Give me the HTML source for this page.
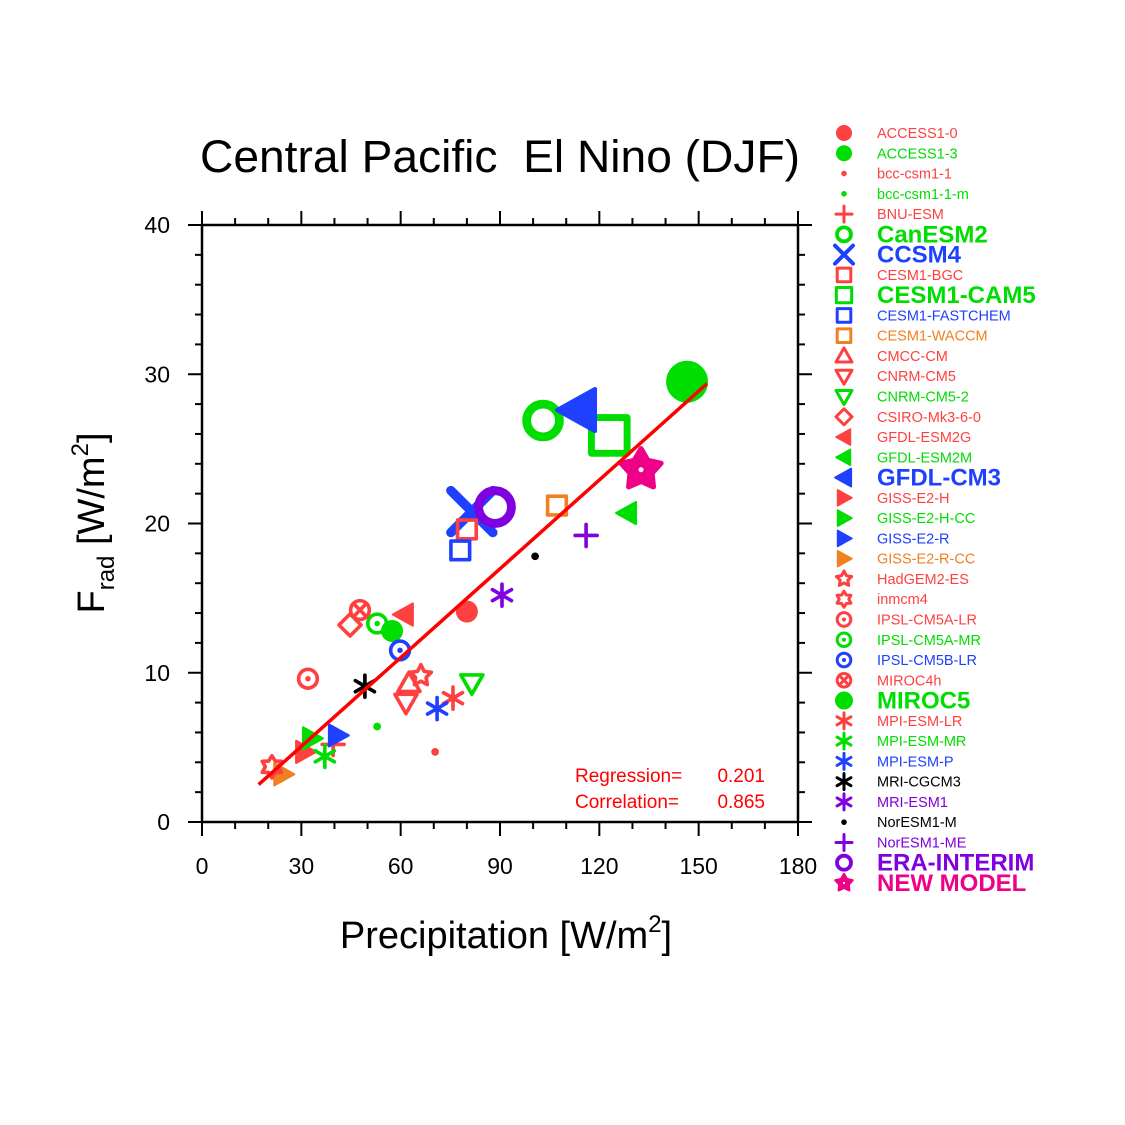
<!DOCTYPE html>
<html><head><meta charset="utf-8"><style>
html,body{margin:0;padding:0;background:#fff;}
svg{display:block;font-family:"Liberation Sans",sans-serif;}
</style></head><body>
<svg id="chart" width="1125" height="1125" viewBox="0 0 1125 1125" xmlns="http://www.w3.org/2000/svg">
<rect width="1125" height="1125" fill="#fff"/>
<text x="200" y="172" font-size="45" textLength="600" lengthAdjust="spacingAndGlyphs" style="white-space:pre">Central Pacific  El Nino (DJF)</text>
<text x="506" y="948" font-size="38" text-anchor="middle">Precipitation [W/m<tspan dy="-16" font-size="24">2</tspan><tspan dy="16">]</tspan></text>
<text transform="translate(104,523) rotate(-90)" font-size="38" text-anchor="middle">F<tspan dy="10" font-size="24">rad</tspan><tspan dy="-10"> [W/m</tspan><tspan dy="-16" font-size="24">2</tspan><tspan dy="16">]</tspan></text>
<g id="axes"></g>
<g id="marks"></g>
<g id="legend"></g>
<text x="575" y="782" font-size="19" fill="#ff0000">Regression=</text>
<text x="765" y="782" font-size="19" fill="#ff0000" text-anchor="end">0.201</text>
<text x="575" y="808" font-size="19" fill="#ff0000">Correlation=</text>
<text x="765" y="808" font-size="19" fill="#ff0000" text-anchor="end">0.865</text>
</svg>
<script>
const models=["ACCESS1-0","ACCESS1-3","bcc-csm1-1","bcc-csm1-1-m","BNU-ESM","CanESM2","CCSM4","CESM1-BGC","CESM1-CAM5","CESM1-FASTCHEM","CESM1-WACCM","CMCC-CM","CNRM-CM5","CNRM-CM5-2","CSIRO-Mk3-6-0","GFDL-ESM2G","GFDL-ESM2M","GFDL-CM3","GISS-E2-H","GISS-E2-H-CC","GISS-E2-R","GISS-E2-R-CC","HadGEM2-ES","inmcm4","IPSL-CM5A-LR","IPSL-CM5A-MR","IPSL-CM5B-LR","MIROC4h","MIROC5","MPI-ESM-LR","MPI-ESM-MR","MPI-ESM-P","MRI-CGCM3","MRI-ESM1","NorESM1-M","NorESM1-ME","ERA-INTERIM","NEW MODEL"];
const precip=[80.0,57.4,70.4,52.9,39.6,103.0,81.5,80.0,123.0,78.0,107.2,62.5,61.6,81.5,44.7,61.0,128.4,113.6,31.1,33.2,41.0,24.5,66.1,21.1,32.0,52.9,59.8,47.7,146.5,75.8,37.1,71.0,49.2,90.6,100.6,116.0,88.5,132.6];
const frad=[14.1,12.8,4.7,6.4,5.2,26.9,20.8,19.6,25.9,18.2,21.2,9.3,8.0,9.3,13.2,13.9,20.7,27.6,4.7,5.6,5.8,3.2,9.8,3.7,9.6,13.3,11.5,14.2,29.5,8.3,4.4,7.6,9.1,15.2,17.8,19.2,21.1,23.6];
const xTicks=[0,30,60,90,120,150,180];
const yTicks=[0,10,20,30,40];
const colors=["#ff4040","#00dd00","#ff4040","#00dd00","#ff4040","#00dd00","#2040ff","#ff4040","#00dd00","#2040ff","#f08020","#ff4040","#ff4040","#00dd00","#ff4040","#ff4040","#00dd00","#2040ff","#ff4040","#00dd00","#2040ff","#f08020","#ff4040","#ff4040","#ff4040","#00dd00","#2040ff","#ff4040","#00dd00","#ff4040","#00dd00","#2040ff","#000000","#8000e0","#000000","#8000e0","#8000e0","#ee0088"];
const shapes=["disc","disc","dot","dot","plus","ring","x","sq","sq","sq","sq","tu","td","td","dia","tl","tl","tl","tr","tr","tr","tr","star5","star6","cdot","cdot","cdot","cx","disc","ast","ast","ast","ast","ast","dot","plus","ring","star5f"];
const big=[0,0,0,0,0,1,1,0,1,0,0,0,0,0,0,0,0,1,0,0,0,0,0,0,0,0,0,0,1,0,0,0,0,0,0,0,1,1];
const X0=202,X1=798,Y0=822,Y1=225;
const sx=v=>X0+(v-0)/180*(X1-X0);
const sy=v=>Y0-(v-0)/40*(Y0-Y1);
const NS="http://www.w3.org/2000/svg";
function mk(tag,attrs,parent){const e=document.createElementNS(NS,tag);for(const k in attrs)e.setAttribute(k,attrs[k]);parent.appendChild(e);return e;}
const axes=document.getElementById('axes');
mk('rect',{x:X0,y:Y1,width:X1-X0,height:Y0-Y1,fill:'none',stroke:'#000','stroke-width':2.5},axes);
for(let v=0;v<=180;v+=10){const maj=v%30===0,L=maj?14:7,x=sx(v);
 mk('line',{x1:x,y1:Y0,x2:x,y2:Y0+L,stroke:'#000','stroke-width':2},axes);
 mk('line',{x1:x,y1:Y1,x2:x,y2:Y1-L,stroke:'#000','stroke-width':2},axes);}
for(let v=0;v<=40;v+=2){const maj=v%10===0,L=maj?14:7,y=sy(v);
 mk('line',{x1:X0,y1:y,x2:X0-L,y2:y,stroke:'#000','stroke-width':2},axes);
 mk('line',{x1:X1,y1:y,x2:X1+L,y2:y,stroke:'#000','stroke-width':2},axes);}
xTicks.forEach(v=>{const t=mk('text',{x:sx(v),y:Y0+52,'font-size':23,'text-anchor':'middle'},axes);t.textContent=v;
 
 });
yTicks.forEach(v=>{const t=mk('text',{x:X0-32,y:sy(v)+8,'font-size':23,'text-anchor':'end'},axes);t.textContent=v;
 
 });
function starPts(cx,cy,n,ro,ri){let p=[];for(let i=0;i<2*n;i++){const a=-Math.PI/2+i*Math.PI/n,r=i%2?ri:ro;p.push((cx+r*Math.cos(a)).toFixed(1)+','+(cy+r*Math.sin(a)).toFixed(1));}return p.join(' ');}
function marker(g,shape,cx,cy,r,c){
 const sw=Math.max(3,r*0.33);
 const st={fill:'none',stroke:c,'stroke-width':sw,'stroke-linejoin':'round','stroke-linecap':'round'};
 switch(shape){
 case 'disc':mk('circle',{cx,cy,r,fill:c},g);break;
 case 'dot':mk('circle',{cx,cy,r:r*0.35,fill:c},g);break;
 case 'plus':mk('path',Object.assign({d:`M${cx-r} ${cy}H${cx+r}M${cx} ${cy-r}V${cy+r}`},st),g);break;
 case 'ring':mk('circle',Object.assign({cx,cy,r:r*0.78},st,{'stroke-width':r*0.42}),g);break;
 case 'x':mk('path',Object.assign({d:`M${cx-r} ${cy-r}L${cx+r} ${cy+r}M${cx+r} ${cy-r}L${cx-r} ${cy+r}`},st,{'stroke-width':r*0.45}),g);break;
 case 'sq':{const s=r*0.85;mk('rect',Object.assign({x:cx-s,y:cy-s,width:2*s,height:2*s},st),g);break;}
 case 'tu':mk('polygon',Object.assign({points:`${cx},${cy-r} ${cx+r},${cy+r*0.75} ${cx-r},${cy+r*0.75}`},st),g);break;
 case 'td':mk('polygon',Object.assign({points:`${cx},${cy+r} ${cx+r},${cy-r*0.75} ${cx-r},${cy-r*0.75}`},st),g);break;
 case 'dia':mk('polygon',Object.assign({points:`${cx},${cy-r} ${cx+r},${cy} ${cx},${cy+r} ${cx-r},${cy}`},st),g);break;
 case 'tl':mk('polygon',{points:`${cx-r},${cy} ${cx+r*0.8},${cy-r} ${cx+r*0.8},${cy+r}`,fill:c,stroke:c,'stroke-width':r*0.2,'stroke-linejoin':'round'},g);break;
 case 'tr':mk('polygon',{points:`${cx+r},${cy} ${cx-r*0.8},${cy-r} ${cx-r*0.8},${cy+r}`,fill:c,stroke:c,'stroke-width':r*0.2,'stroke-linejoin':'round'},g);break;
 case 'star5':mk('polygon',Object.assign({points:starPts(cx,cy,5,r,r*0.5)},st),g);break;
 case 'star5f':mk('polygon',{points:starPts(cx,cy,5,r,r*0.55),fill:c,stroke:c,'stroke-width':r*0.25,'stroke-linejoin':'round'},g);mk('circle',{cx,cy,r:r*0.12,fill:'#fff'},g);break;
 case 'star6':mk('polygon',Object.assign({points:starPts(cx,cy,6,r,r*0.6)},st),g);break;
 case 'cdot':mk('circle',Object.assign({cx,cy,r:r*0.85},st),g);mk('circle',{cx,cy,r:r*0.25,fill:c},g);break;
 case 'cx':mk('circle',Object.assign({cx,cy,r:r*0.85},st),g);mk('path',Object.assign({d:`M${cx-r*0.6} ${cy-r*0.6}L${cx+r*0.6} ${cy+r*0.6}M${cx+r*0.6} ${cy-r*0.6}L${cx-r*0.6} ${cy+r*0.6}`},st),g);break;
 case 'ast':{let d='';for(let i=0;i<3;i++){const a=Math.PI/2+i*Math.PI/3;d+=`M${cx-r*Math.cos(a)} ${cy-r*Math.sin(a)}L${cx+r*Math.cos(a)} ${cy+r*Math.sin(a)}`;}mk('path',Object.assign({d},st),g);break;}
 }
}
const marks=document.getElementById('marks');
models.forEach((m,i)=>{
 const g=mk('g',{},marks);
 
 
 marker(g,shapes[i],sx(precip[i]),sy(frad[i]),big[i]?21:11,colors[i]);
});
let n=0,mx=0,my=0;models.forEach((m,i)=>{if(m!=="ERA-INTERIM"){n++;mx+=precip[i];my+=frad[i];}});mx/=n;my/=n;
let sxy=0,sxx=0;models.forEach((m,i)=>{if(m!=="ERA-INTERIM"){sxy+=(precip[i]-mx)*(frad[i]-my);sxx+=(precip[i]-mx)**2;}});
const slope=sxy/sxx,icpt=my-slope*mx;
const xa=Math.min(...precip)-4,xb=Math.max(...precip)+6;
const rl=mk('line',{x1:sx(xa),y1:sy(icpt+slope*xa),x2:sx(xb),y2:sy(icpt+slope*xb),stroke:'#ff0000','stroke-width':3.5},marks);


const leg=document.getElementById('legend');
models.forEach((m,i)=>{
 const y=133+i*20.27;
 const g=mk('g',{},leg);
 
 
 marker(g,shapes[i],844,y,big[i]?9:8,colors[i]);
 const t=mk('text',{x:877,y:y+(big[i]?8:5),'font-size':big[i]?24:14.5,'font-weight':big[i]?'bold':'normal',fill:colors[i]},g);
 t.textContent=m;
});
</script>
</body></html>
